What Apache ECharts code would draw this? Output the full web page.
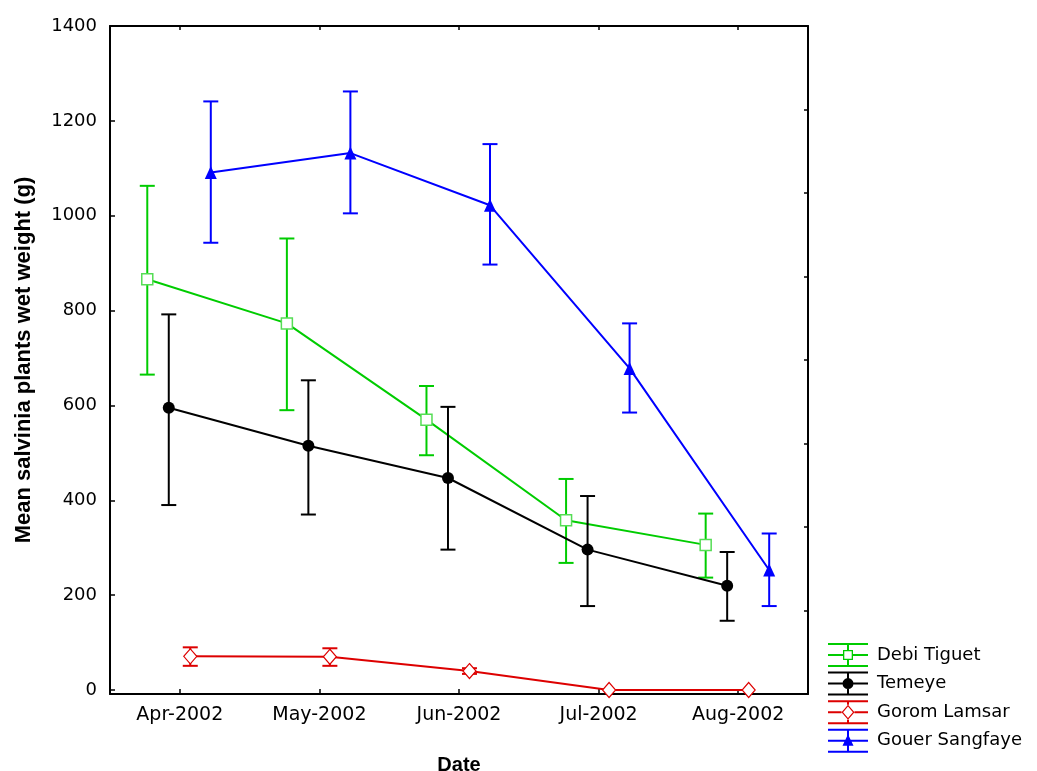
<!DOCTYPE html>
<html>
<head>
<meta charset="utf-8">
<script src="https://cdn.jsdelivr.net/npm/echarts@6/dist/echarts.min.js"></script>
<style>
  html, body { margin: 0; padding: 0; background: #fff; }
  #main { width: 1037px; height: 771px; }
</style>
</head>
<body>
<div id="main"></div>
<script>
'use strict';

// categories and ticks
var months = ['Apr-2002', 'May-2002', 'Jun-2002', 'Jul-2002', 'Aug-2002'];
var yTicks = [0, 200, 400, 600, 800, 1000, 1200, 1400];

// means and error bar ends
var debiMean = [866, 773, 570, 358, 306];
var debiLow  = [665, 590, 495, 268, 237];
var debiHigh = [1063, 952, 641, 445, 372];

var temeyeMean = [595, 515, 447, 296, 220];
var temeyeLow  = [390, 370, 296, 177, 146];
var temeyeHigh = [792, 653, 597, 409, 291];

var goromMean = [71, 70, 40, 0, 0];
var goromLow  = [51, 51, 34, 0, 0];
var goromHigh = [90, 88, 46, 0, 0];

var gouerMean = [1091, 1132, 1022, 678, 253];
var gouerLow  = [943, 1005, 897, 585, 177];
var gouerHigh = [1241, 1262, 1151, 773, 330];

var siteNames = ['Debi Tiguet', 'Temeye', 'Gorom Lamsar', 'Gouer Sangfaye'];
var siteMeans = [debiMean, temeyeMean, goromMean, gouerMean];
var siteLows  = [debiLow, temeyeLow, goromLow, gouerLow];
var siteHighs = [debiHigh, temeyeHigh, goromHigh, gouerHigh];

// look of each site (colour, marker, dodge from the month centre)
var colors = ['#00cc00', '#000000', '#dd0000', '#0000ff'];
var dodge = [-0.233, -0.079, 0.075, 0.222];
var marks = [
	{symbol: 'rect', size: 11, item: {color: '#fff', borderColor: '#55dd55', borderWidth: 1.5}},
	{symbol: 'circle', size: 12, item: {color: '#000'}},
	{symbol: 'diamond', size: [13, 15], item: {color: '#fff', borderColor: '#dd0000', borderWidth: 1.2}},
	{symbol: 'triangle', size: [12, 13], item: {color: '#0000ff'}}
];

// legend icons: error bar glyph with the marker in the middle (40 x 24 box)
var icons = [
	'path://M0 0H40V2H0Z M0 22H40V24H0Z M0 11H15H15V13H0Z M25 11H40V13H25Z M19 2H21V7H19Z M19 17H21V22H19Z M15 7H25V17H15Z M16.3 8.3V15.7H23.7V8.3Z',
	'path://M0 0H40V2H0Z M0 22H40V24H0Z M0 11H40V13H0Z M19 0H21V24H19Z M25.5 12A5.5 5.5 0 1 1 14.5 12A5.5 5.5 0 1 1 25.5 12Z',
	'path://M0 0H40V2H0Z M0 22H40V24H0Z M0 11H13.5V13H0Z M26.5 11H40V13H26.5Z M19 2H21V4.5H19Z M19 19.5H21V22H19Z M20 4.5L26.5 12L20 19.5L13.5 12Z M20 6.3L15.1 12L20 17.7L24.9 12Z',
	'path://M0 0H40V2H0Z M0 22H40V24H0Z M0 11H40V13H0Z M19 0H21V24H19Z M20 5.5L25.5 17H14.5Z'
];

var tickFont = 'DejaVu Sans';
var titleFont = 'Liberation Sans';

function renderBar(params, api){
	var x = api.value(0), lo = api.value(1), hi = api.value(2);
	if (hi - lo < 1) return null;
	var top = api.coord([x, hi]);
	var bot = api.coord([x, lo]);
	var hw = 7.5;
	var st = {stroke: api.visual('color'), lineWidth: 2};
	return {
		type: 'group',
		children: [
			{type: 'line', shape: {x1: top[0], y1: top[1], x2: bot[0], y2: bot[1]}, style: st},
			{type: 'line', shape: {x1: top[0] - hw, y1: top[1], x2: top[0] + hw, y2: top[1]}, style: st},
			{type: 'line', shape: {x1: bot[0] - hw, y1: bot[1], x2: bot[0] + hw, y2: bot[1]}, style: st}
		]
	};
}

var series = [];
var legendData = [];
siteNames.forEach(function(name, i){
	var pts = [], bars = [];
	for (var k = 0; k < months.length; k++){
		pts.push([k + dodge[i], siteMeans[i][k]]);
		bars.push([k + dodge[i], siteLows[i][k], siteHighs[i][k]]);
	}
	series.push({
		name: name + ' SE',
		type: 'custom',
		renderItem: renderBar,
		itemStyle: {color: colors[i]},
		data: bars,
		z: 2 + i * 2,
		clip: false,
		silent: true
	});
	series.push({
		name: name,
		type: 'line',
		data: pts,
		symbol: marks[i].symbol,
		symbolSize: marks[i].size,
		showSymbol: true,
		lineStyle: {color: colors[i], width: 2},
		itemStyle: marks[i].item,
		z: 3 + i * 2,
		clip: false,
		emphasis: {disabled: true}
	});
	legendData.push({
		name: name,
		icon: icons[i],
		itemStyle: {color: colors[i], borderWidth: 0}
	});
});

var axisLine = {show: true, onZero: false, lineStyle: {color: '#000', width: 2}};

var option = {
	animation: false,
	backgroundColor: '#fff',
	grid: {left: 110, right: 229, top: 26, bottom: 77, outerBoundsMode: 'none'},
	legend: {
		orient: 'vertical',
		left: 828,
		top: 643,
		padding: 0,
		itemWidth: 40,
		itemHeight: 24,
		itemGap: 4.6,
		selectedMode: false,
		textStyle: {fontFamily: tickFont, fontSize: 18, color: '#000', padding: [0, 0, 0, 4]},
		data: legendData
	},
	xAxis: [
		{
			type: 'value',
			position: 'bottom',
			min: -0.5,
			max: 4.5,
			name: 'Date',
			nameLocation: 'middle',
			nameGap: 61,
			nameTextStyle: {fontFamily: titleFont, fontWeight: 'bold', fontSize: 20, color: '#000'},
			axisLine: axisLine,
			axisTick: {show: true, inside: true, length: 5, customValues: [0, 1, 2, 3, 4], lineStyle: {color: '#000', width: 1.5}},
			axisLabel: {
				customValues: [0, 1, 2, 3, 4],
				margin: 12,
				fontFamily: tickFont,
				fontSize: 19,
				color: '#000',
				formatter: function(v){ return months[Math.round(v)]; }
			},
			splitLine: {show: false}
		},
		{
			type: 'value',
			position: 'top',
			min: -0.5,
			max: 4.5,
			axisLine: axisLine,
			axisTick: {show: true, inside: true, length: 4, customValues: [0, 1, 2, 3, 4], lineStyle: {color: '#000', width: 1.5}},
			axisLabel: {show: false},
			splitLine: {show: false}
		}
	],
	yAxis: [
		{
			type: 'value',
			position: 'left',
			min: -8.4,
			max: 1400,
			name: 'Mean salvinia plants wet weight (g)',
			nameLocation: 'middle',
			nameGap: 75,
			nameTextStyle: {fontFamily: titleFont, fontWeight: 'bold', fontSize: 22, color: '#000'},
			axisLine: axisLine,
			axisTick: {show: true, inside: true, length: 5, customValues: yTicks, lineStyle: {color: '#000', width: 1.5}},
			axisLabel: {
				customValues: yTicks,
				margin: 13,
				fontFamily: tickFont,
				fontSize: 18,
				color: '#000',
				formatter: function(v){ return String(Math.round(v)); }
			},
			splitLine: {show: false}
		},
		{
			type: 'value',
			position: 'right',
			min: 0,
			max: 8,
			interval: 1,
			axisLine: axisLine,
			axisTick: {show: true, inside: true, length: 4, lineStyle: {color: '#000', width: 1.5}},
			axisLabel: {show: false},
			splitLine: {show: false}
		}
	],
	series: series
};

try{
	var myChart = echarts.init(document.getElementById('main'));
	myChart.setOption(option);
}
catch(e){
	console.log(e);
}
</script>
</body>
</html>
